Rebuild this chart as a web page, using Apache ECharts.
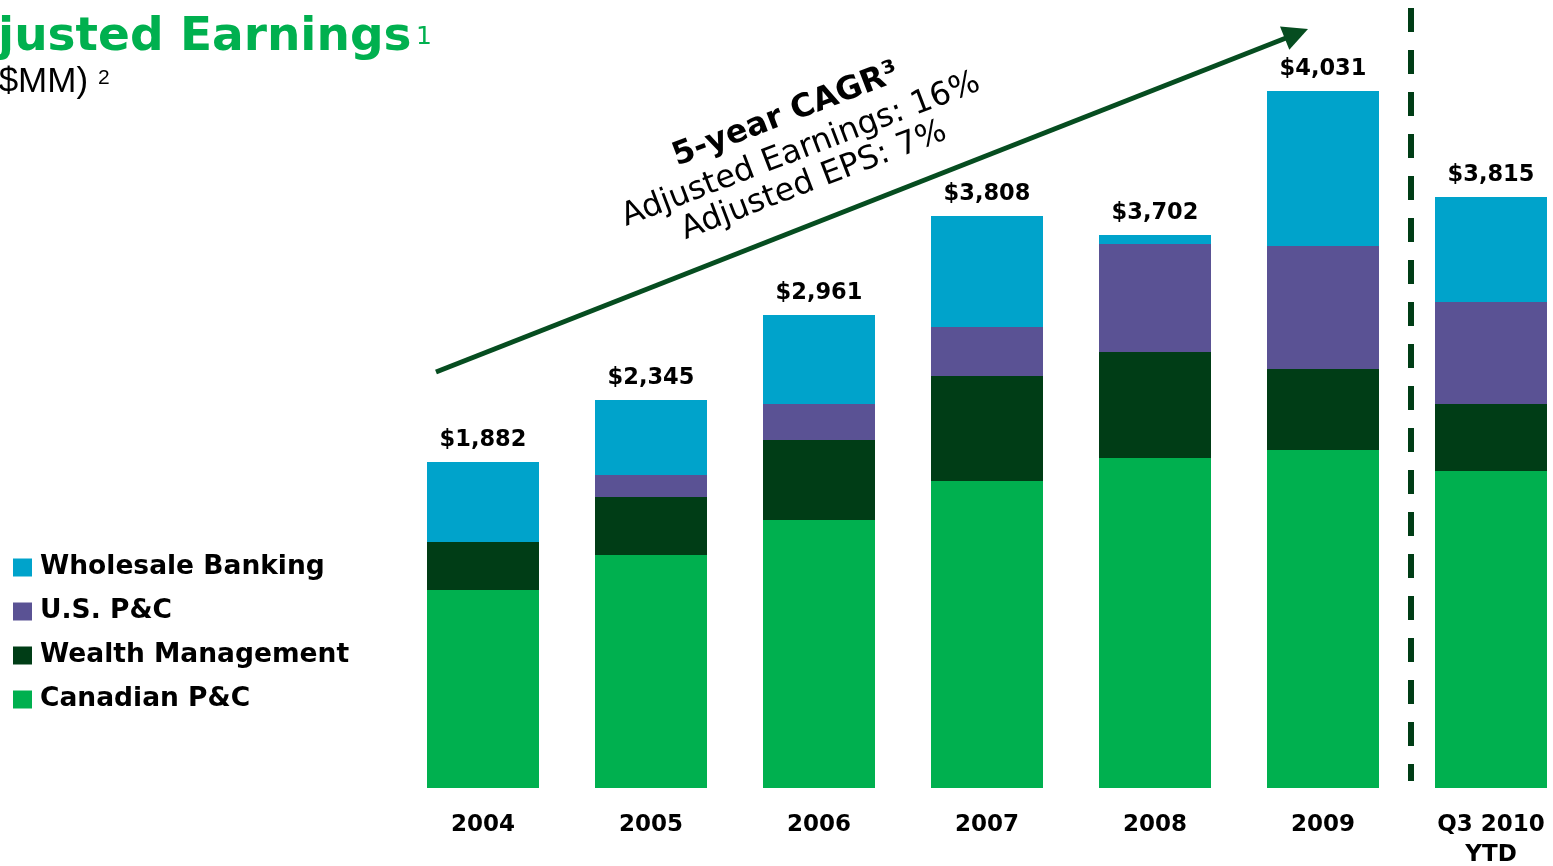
<!DOCTYPE html>
<html><head><meta charset="utf-8">
<script src="https://cdn.jsdelivr.net/npm/echarts@6/dist/echarts.min.js"></script>
<style>html,body{margin:0;padding:0;background:#fff}#c{width:1553px;height:866px}</style>
</head><body><div id="c"></div>
<script>
// ---- data ($MM) ----
const categories = ['2004', '2005', '2006', '2007', '2008', '2009', 'Q3 2010\nYTD'];
const canadianPC = [1452, 1709, 1965, 2251, 2420, 2479, 2325];
const wealthMgmt = [352, 425, 587, 770, 777, 594, 491];
const usPC = [0, 161, 264, 359, 792, 902, 748];
const wholesale = [587, 550, 653, 814, 66, 1137, 770];
const totals = [1882, 2345, 2961, 3808, 3702, 4031, 3815];
const legendOrder = ['Wholesale Banking', 'U.S. P&C', 'Wealth Management', 'Canadian P&C'];

const FONT = '"DejaVu Sans", Verdana, sans-serif';
const chart = echarts.init(document.getElementById('c'));

const seriesDefs = [
  { name: 'Canadian P&C', data: canadianPC, color: '#00b04f' },
  { name: 'Wealth Management', data: wealthMgmt, color: '#003d16' },
  { name: 'U.S. P&C', data: usPC, color: '#5a5294' },
  { name: 'Wholesale Banking', data: wholesale, color: '#00a3cb' }
];

const fmt = v => '$' + v.toLocaleString('en-US');
const rot = 21 * Math.PI / 180;

const option = {
  animation: false,
  backgroundColor: '#fff',
  grid: { left: 399, right: -22, top: 38, bottom: 78, containLabel: false, outerBoundsMode: 'none' },
  xAxis: {
    type: 'category', data: categories,
    axisLine: { show: false }, axisTick: { show: false },
    axisLabel: { interval: 0, margin: 22, color: '#000', fontFamily: FONT, fontWeight: 'bold', fontSize: 23, lineHeight: 30 }
  },
  yAxis: { type: 'value', min: 0, max: 5500, show: false, splitLine: { show: false } },
  legend: {
    orient: 'vertical', left: 8, top: 549, itemWidth: 19, itemHeight: 18, itemGap: 17,
    icon: 'rect', selectedMode: false, data: legendOrder,
    textStyle: { fontFamily: FONT, fontWeight: 'bold', fontSize: 26.5, color: '#000', lineHeight: 26, padding: [0, 0, 0, 3] }
  },
  series: seriesDefs.map((d, i) => ({
    type: 'bar', name: d.name, stack: 'total', data: d.data, barWidth: 112,
    itemStyle: { color: d.color },
    label: i === 3 ? {
      show: true, position: 'top', distance: 10,
      formatter: p => fmt(totals[p.dataIndex]),
      fontFamily: FONT, fontWeight: 'bold', fontSize: 22.5, color: '#000'
    } : { show: false }
  })),
  graphic: [
    // title
    { type: 'text', x: -72, y: 38, style: { text: 'Adjusted Earnings', font: 'bold 47px "DejaVu Sans"', fill: '#00b04f', verticalAlign: 'middle' } },
    { type: 'text', x: 416, y: 37, style: { text: '1', font: '25px "DejaVu Sans"', fill: '#00b04f', verticalAlign: 'middle' } },
    { type: 'text', x: -13, y: 82, style: { text: '($MM)', font: '35px "Liberation Sans"', fill: '#000', verticalAlign: 'middle' } },
    { type: 'text', x: 98, y: 78, style: { text: '2', font: '21px "Liberation Sans"', fill: '#000', verticalAlign: 'middle' } },
    // arrow
    { type: 'line', shape: { x1: 436, y1: 372, x2: 1286, y2: 38 }, style: { stroke: '#064d20', lineWidth: 5 } },
    { type: 'polygon', shape: { points: [[1308, 29], [1280, 26.6], [1289.3, 49.8]] }, style: { fill: '#064d20' } },
    // CAGR annotation
    { type: 'text', x: 786, y: 115, rotation: rot, style: { text: '5-year CAGR³', font: 'bold 32px "DejaVu Sans"', fill: '#000', align: 'center', verticalAlign: 'middle' } },
    { type: 'text', x: 801, y: 150, rotation: rot, style: { text: 'Adjusted Earnings: 16%', font: '32px "DejaVu Sans"', fill: '#000', align: 'center', verticalAlign: 'middle' } },
    { type: 'text', x: 814, y: 181, rotation: rot, style: { text: 'Adjusted EPS: 7%', font: '32px "DejaVu Sans"', fill: '#000', align: 'center', verticalAlign: 'middle' } },
    // dashed divider
    { type: 'line', shape: { x1: 1411, y1: 8, x2: 1411, y2: 781 }, style: { stroke: '#003d16', lineWidth: 6, lineDash: [24, 18] } }
  ]
};
chart.setOption(option);
</script></body></html>
